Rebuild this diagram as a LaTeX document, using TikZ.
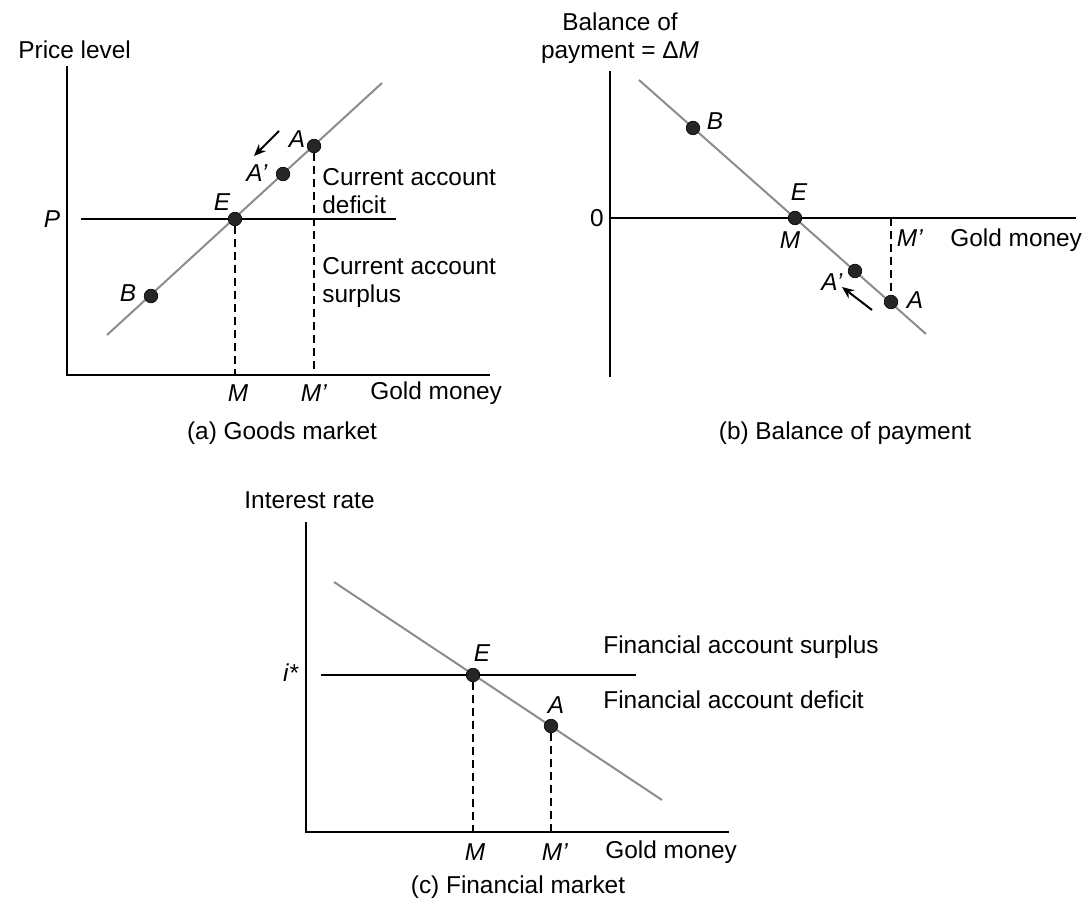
\documentclass[tikz,border=0pt]{standalone}
\usepackage{fontspec}
\setmainfont{Liberation Sans}
\usetikzlibrary{arrows.meta}
\begin{document}
\begin{tikzpicture}[x=0.5pt,y=-0.5pt,
  every node/.style={font=\fontsize{12.2}{14}\selectfont, inner sep=0pt},
  axis/.style={line width=1.1pt, black},
  curve/.style={line width=1pt, black!45},
  level/.style={line width=1pt, black},
  guide/.style={line width=0.8pt, black, dash pattern=on 4pt off 2.5pt},
  dot/.style={circle, fill=black!85, draw=black, line width=0.3pt, minimum size=6.8pt, inner sep=0pt},
  move/.style={line width=1pt, black, -{Stealth[length=6pt,width=5pt]}},
  txt/.style={anchor=west, align=left}
  ]
\useasboundingbox (0,0) rectangle (1090,903);

% ---------------- (a) Goods market ----------------
\coordinate (aO) at (67,375);
\coordinate (aYt) at (67,66);
\coordinate (aXe) at (490,375);
\coordinate (aC1) at (107,335);
\coordinate (aC2) at (382,83);
\coordinate (aP1) at (81,219);
\coordinate (aP2) at (396,219);
\coordinate (aM) at (235,375);
\coordinate (aMp) at (314,375);
\coordinate (aArS) at (279,131);
\coordinate (aArE) at (254,156);
\draw[axis] (aYt) -- (aO) -- (aXe);
\draw[level] (aP1) -- (aP2);
\draw[curve] (aC1) -- (aC2);
\node[dot] (aE) at (235,219) {};
\node[dot] (aA) at (314,146) {};
\node[dot] (aAp) at (283,174) {};
\node[dot] (aB) at (151,296) {};
\draw[guide] (aE) -- (aM);
\draw[guide] (aA) -- (aMp);
\draw[move] (aArS) -- (aArE);
\node[anchor=west] (aYlab) at (18,50) {Price level};
\node (aPlab) at (52,219) {\textit{P}};
\node (aElab) at (222,202) {\textit{E}};
\node (aAlab) at (297,139) {\textit{A}};
\node (aAplab) at (257,173) {\textit{A'}};
\node (aBlab) at (128,293) {\textit{B}};
\node (aMlab) at (238,393) {\textit{M}};
\node (aMplab) at (314,393) {\textit{M'}};
\node[anchor=west] (aXlab) at (370,393) {Gold money};
\node[txt] (aDef) at (322,191) {Current account\\deficit};
\node[txt] (aSur) at (322,283) {Current account\\surplus};
\node (aCap) at (282,433) {(a) Goods market};

% ---------------- (b) Balance of payment ----------------
\coordinate (bYt) at (610,71);
\coordinate (bYb) at (610,377);
\coordinate (bX0) at (610,218);
\coordinate (bXe) at (1076,218);
\coordinate (bC1) at (639,80);
\coordinate (bC2) at (926,334);
\coordinate (bMp) at (891,218);
\coordinate (bArS) at (872,310);
\coordinate (bArE) at (842,287);
\draw[axis] (bYt) -- (bYb);
\draw[axis] (bX0) -- (bXe);
\draw[curve] (bC1) -- (bC2);
\node[dot] (bB) at (693,128) {};
\node[dot] (bE) at (795,218) {};
\node[dot] (bAp) at (855,271) {};
\node[dot] (bA) at (891,302) {};
\draw[guide] (bMp) -- (bA);
\draw[move] (bArS) -- (bArE);
\node[align=center] (bYlab) at (620,38) {Balance of\\payment = Δ\textit{M}};
\node (b0) at (597,218) {0};
\node (bBlab) at (715,121) {\textit{B}};
\node (bElab) at (799,192) {\textit{E}};
\node (bMlab) at (790,240) {\textit{M}};
\node (bMplab) at (910,238) {\textit{M'}};
\node[anchor=west] (bXlab) at (950,240) {Gold money};
\node (bAlab) at (915,300) {\textit{A}};
\node (bAplab) at (832,282) {\textit{A'}};
\node (bCap) at (845,433) {(b) Balance of payment};

% ---------------- (c) Financial market ----------------
\coordinate (cYt) at (306,522);
\coordinate (cO) at (306,832);
\coordinate (cXe) at (729,832);
\coordinate (cI1) at (321,675);
\coordinate (cI2) at (636,675);
\coordinate (cC1) at (334,582);
\coordinate (cC2) at (662,800);
\coordinate (cM) at (473,832);
\coordinate (cMp) at (551,832);
\draw[axis] (cYt) -- (cO) -- (cXe);
\draw[level] (cI1) -- (cI2);
\draw[curve] (cC1) -- (cC2);
\node[dot] (cE) at (473,675) {};
\node[dot] (cA) at (551,726) {};
\draw[guide] (cE) -- (cM);
\draw[guide] (cA) -- (cMp);
\node[anchor=west] (cYlab) at (244,500) {Interest rate};
\node (cIlab) at (291,673) {\textit{i*}};
\node (cElab) at (482,653) {\textit{E}};
\node (cAlab) at (556,705) {\textit{A}};
\node (cMlab) at (475,852) {\textit{M}};
\node (cMplab) at (555,852) {\textit{M'}};
\node[anchor=west] (cXlab) at (605,852) {Gold money};
\node[anchor=west] (cSur) at (603,647) {Financial account surplus};
\node[anchor=west] (cDef) at (603,700) {Financial account deficit};
\node (cCap) at (518,887) {(c) Financial market};
\end{tikzpicture}
\end{document}
